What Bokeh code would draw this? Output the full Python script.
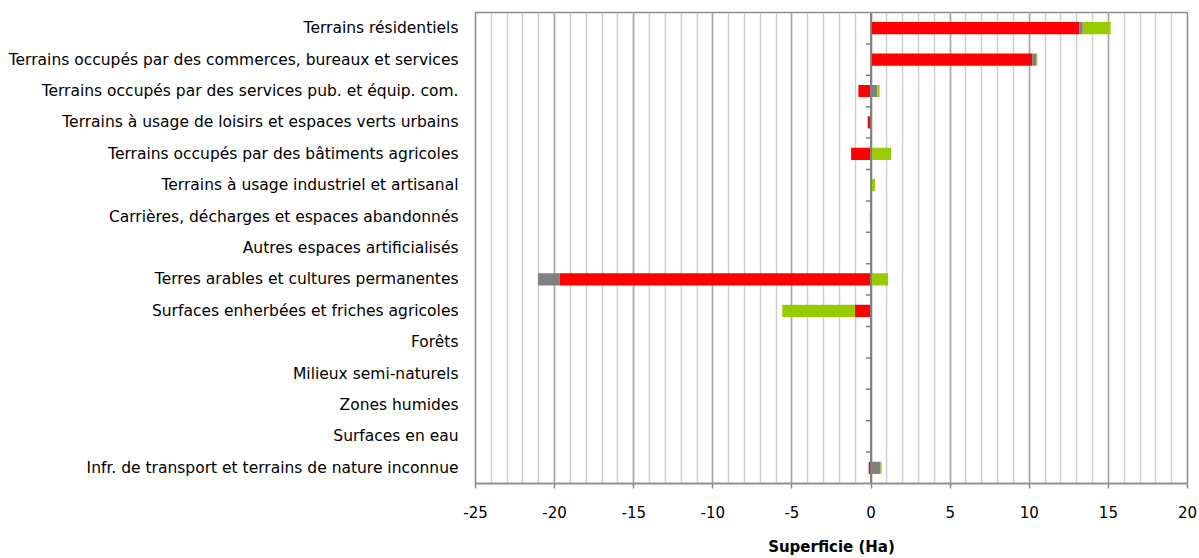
from bokeh.plotting import figure
from bokeh.models import Range1d, FixedTicker, SingleIntervalTicker, Span, ColumnDataSource, NumeralTickFormatter
from bokeh.embed import file_html
from bokeh.resources import INLINE

categories = [
    "Terrains résidentiels",
    "Terrains occupés par des commerces, bureaux et services",
    "Terrains occupés par des services pub. et équip. com.",
    "Terrains à usage de loisirs et espaces verts urbains",
    "Terrains occupés par des bâtiments agricoles",
    "Terrains à usage industriel et artisanal",
    "Carrières, décharges et espaces abandonnés",
    "Autres espaces artificialisés",
    "Terres arables et cultures permanentes",
    "Surfaces enherbées et friches agricoles",
    "Forêts",
    "Milieux semi-naturels",
    "Zones humides",
    "Surfaces en eau",
    "Infr. de transport et terrains de nature inconnue",
]
red_values = [13.15, 10.18, -0.80, -0.20, -1.26, 0.0, -0.04, 0.0, -19.70, -1.03, 0.0, 0.0, 0.0, 0.0, -0.15]
grey_values = [0.23, 0.28, 0.40, 0.0, 0.0, 0.0, 0.0, 0.0, -1.35, 0.0, 0.0, 0.0, 0.0, 0.0, 0.60]
green_values = [1.76, 0.05, 0.14, -0.03, 1.26, 0.25, -0.04, 0.0, 1.07, -4.58, 0.0, 0.0, 0.0, 0.0, 0.07]
series_colors = ["#FF0000", "#808080", "#99CC00"]
x_min, x_max = -25, 20

n = len(categories)
ypos = [n - i - 0.5 for i in range(n)]

p = figure(width=1199, height=558, x_range=Range1d(x_min, x_max), y_range=Range1d(0, n),
           output_backend="svg", toolbar_location=None,
           min_border_left=475, min_border_right=12, min_border_top=12, min_border_bottom=72)

# grid
p.xaxis.ticker = SingleIntervalTicker(interval=5, num_minor_ticks=5)
p.xgrid.grid_line_color = "#a6a6a6"
p.xgrid.grid_line_width = 1.5
p.xgrid.minor_grid_line_color = "#cfcfcf"
p.xgrid.minor_grid_line_width = 1.5
p.ygrid.grid_line_color = None
p.outline_line_color = "#8c8c8c"
p.outline_line_width = 1.5

# stacked bars (positive and negative stacked separately)
pos_base = [0.0] * n
neg_base = [0.0] * n
for vals, col in zip([red_values, grey_values, green_values], series_colors):
    left, right, ys = [], [], []
    for i, v in enumerate(vals):
        if v == 0:
            continue
        if v > 0:
            left.append(pos_base[i]); right.append(pos_base[i] + v); pos_base[i] += v
        else:
            right.append(neg_base[i]); left.append(neg_base[i] + v); neg_base[i] += v
        ys.append(ypos[i])
    src = ColumnDataSource(dict(y=ys, left=left, right=right))
    p.hbar(y="y", left="left", right="right", height=0.39, source=src,
           fill_color=col, line_color=None)

# zero axis line with category tick marks
p.add_layout(Span(location=0, dimension="height", line_color="#808080", line_width=2))
bounds = list(range(1, n))
p.segment(x0=[-0.33] * len(bounds), x1=[0] * len(bounds), y0=bounds, y1=bounds,
          line_color="#808080", line_width=1.5)

# x axis
xa = p.xaxis[0]
xa.formatter = NumeralTickFormatter(format="0")
xa.axis_line_color = "#8c8c8c"
xa.axis_line_width = 1.5
xa.major_tick_line_color = "#8c8c8c"
xa.major_tick_line_width = 1.5
xa.major_tick_in = 0
xa.major_tick_out = 5
xa.minor_tick_line_color = None
xa.major_label_text_font = "DejaVu Sans"
xa.major_label_text_font_size = "15px"
xa.major_label_text_color = "#000000"
xa.major_label_standoff = 17
xa.axis_label = "Superficie (Ha)"
xa.axis_label_text_font = "DejaVu Sans"
xa.axis_label_text_font_size = "15px"
xa.axis_label_text_font_style = "bold"
xa.axis_label_text_color = "#000000"
xa.axis_label_standoff = 17

# y axis with category labels
ya = p.yaxis[0]
ya.ticker = FixedTicker(ticks=ypos)
ya.major_label_overrides = {y: c for y, c in zip(ypos, categories)}
ya.axis_line_color = None
ya.major_tick_line_color = None
ya.minor_tick_line_color = None
ya.major_tick_in = 0
ya.major_tick_out = 0
ya.major_label_standoff = 17
ya.major_label_text_font = "DejaVu Sans"
ya.major_label_text_font_size = "15.5px"
ya.major_label_text_color = "#000000"

open("out.html", "w").write(file_html(p, INLINE))
